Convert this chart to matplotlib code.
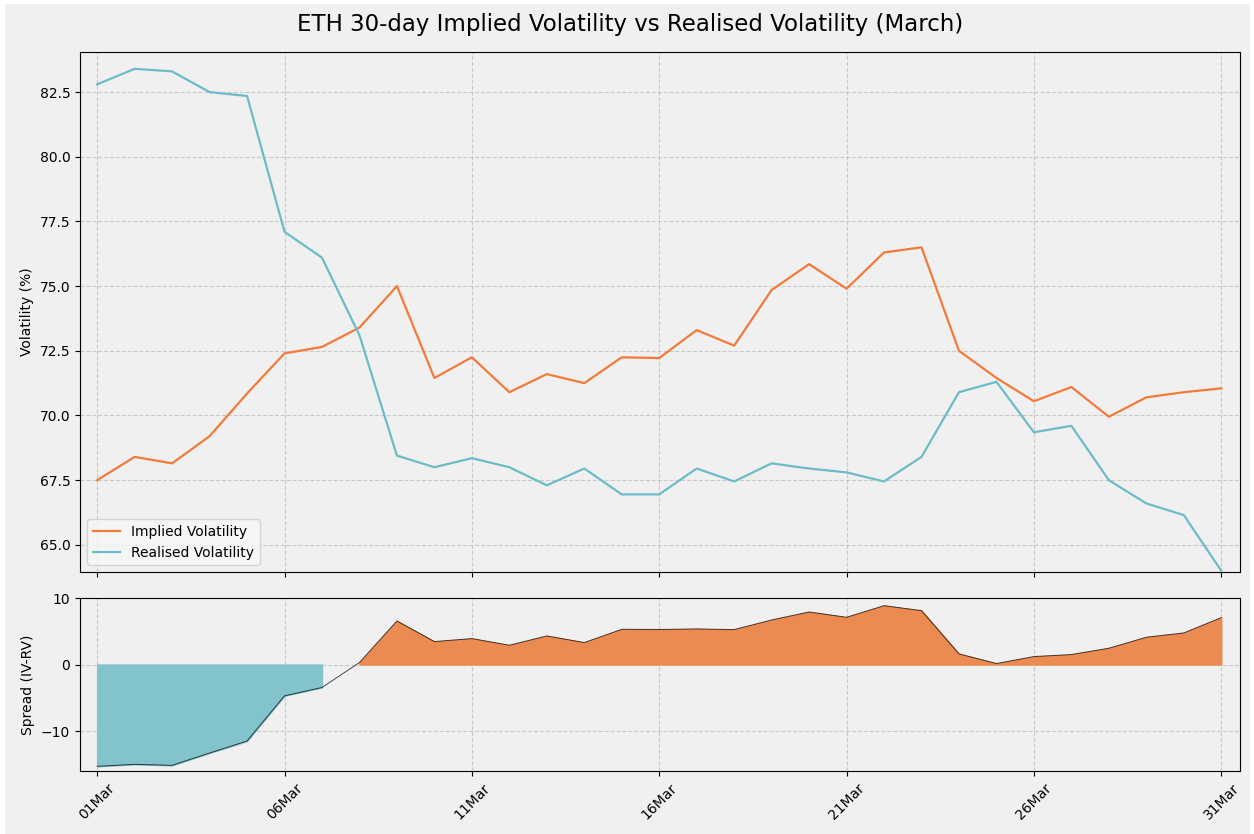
import matplotlib
matplotlib.use("Agg")
import matplotlib.pyplot as plt
import matplotlib.dates as mdates
from matplotlib.patches import Rectangle
import numpy as np
import pandas as pd

# -- Data -------------------------------------------------------------------
DATES = pd.date_range("2024-03-01", "2024-03-31", freq="D")

IV = [67.5, 68.4, 68.15, 69.2, 70.85, 72.4, 72.65, 73.4, 75.0, 71.45,
      72.25, 70.9, 71.6, 71.25, 72.25, 72.22, 73.3, 72.7, 74.85, 75.85,
      74.9, 76.3, 76.5, 72.5, 71.45, 70.55, 71.1, 69.95, 70.7, 70.9, 71.05]

RV = [82.8, 83.4, 83.3, 82.5, 82.35, 77.1, 76.1, 73.1, 68.45, 68.0,
      68.35, 68.0, 67.3, 67.95, 66.95, 66.95, 67.95, 67.45, 68.15, 67.95,
      67.8, 67.45, 68.4, 70.9, 71.3, 69.35, 69.6, 67.5, 66.6, 66.15, 64.0]

# -- Colours -----------------------------------------------------------------
BG = "#f0f0f0"
C_IV = "#f27a3a"
C_RV = "#6cbcc8"
C_POS = "#eb8b52"
C_NEG = "#82c3cc"

iv = np.array(IV)
rv = np.array(RV)
spread = iv - rv

W, H = 1254, 834
fig = plt.figure(figsize=(W / 100, H / 100), dpi=100, facecolor="white")
fig.patches.append(Rectangle((5 / W, 0), 1 - 9 / W, 1 - 4 / H,
                             transform=fig.transFigure, facecolor=BG,
                             edgecolor="none", zorder=-10))


def px_axes(left, top, right, bottom):
    return fig.add_axes([left / W, 1 - bottom / H, (right - left) / W,
                         (bottom - top) / H])


ax = px_axes(80, 52, 1240, 572)
ax_s = px_axes(80, 598, 1240, 771)
ax_s.sharex(ax)

for a in (ax, ax_s):
    a.set_facecolor(BG)
    a.grid(True, linestyle="--", color="#bbbbbb", alpha=0.7, linewidth=0.8)
    a.set_axisbelow(True)

# -- Top panel: IV vs RV -----------------------------------------------------
ax.plot(DATES, iv, color=C_IV, linewidth=1.6, label="Implied Volatility")
ax.plot(DATES, rv, color=C_RV, linewidth=1.6, label="Realised Volatility")
ax.set_ylim(63.95, 84.05)
ax.set_ylabel("Volatility (%)", fontsize=10)
ax.tick_params(axis="x", labelbottom=False)
ax.legend(loc="lower left", fontsize=10, facecolor="#f7f7f7",
          edgecolor="#cccccc")

# -- Bottom panel: spread ----------------------------------------------------
ax_s.fill_between(DATES, spread, 0, where=spread > 0, color=C_POS)
ax_s.fill_between(DATES, spread, 0, where=spread < 0, color=C_NEG)
ax_s.plot(DATES, spread, color="black", linewidth=0.7, alpha=0.7)
ax_s.set_ylim(-16, 10)
ax_s.set_yticks([-10, 0, 10])
ax_s.set_ylabel("Spread (IV-RV)", fontsize=10)

ax_s.set_xlim(DATES[0] - pd.Timedelta(hours=11),
              DATES[-1] + pd.Timedelta(hours=12))
ax_s.xaxis.set_major_locator(mdates.DayLocator(bymonthday=[1, 6, 11, 16, 21, 26, 31]))
ax_s.xaxis.set_major_formatter(mdates.DateFormatter("%d%b"))
plt.setp(ax_s.get_xticklabels(), rotation=45, ha="center")

fig.suptitle("ETH 30-day Implied Volatility vs Realised Volatility (March)",
             fontsize=16.5, x=630 / W, y=1 - 25 / H, va="center")

fig.savefig("out.png", dpi=100, facecolor=fig.get_facecolor())
